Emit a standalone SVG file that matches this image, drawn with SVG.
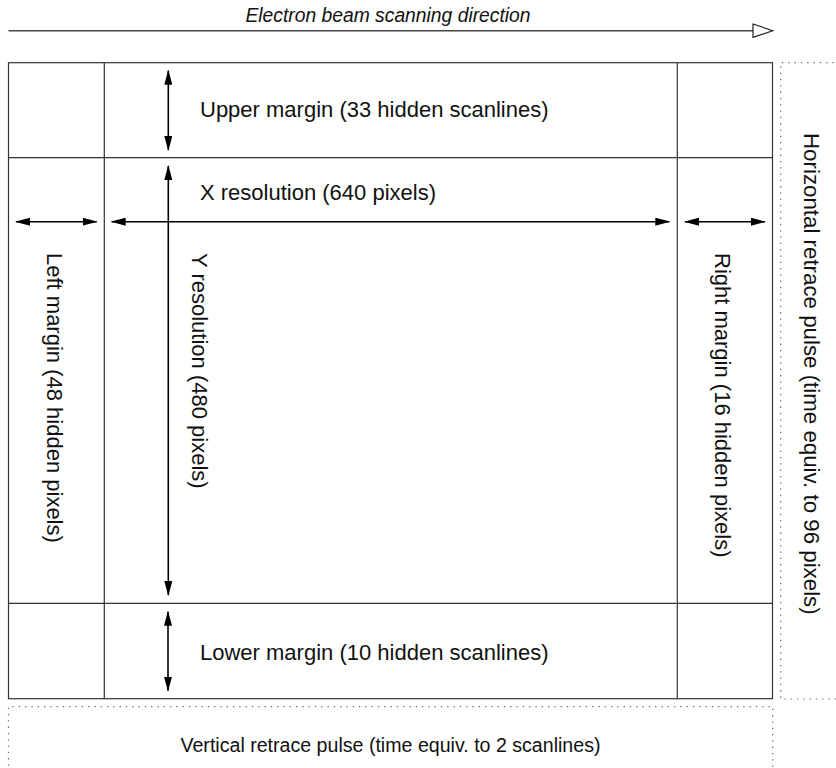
<svg xmlns="http://www.w3.org/2000/svg" width="836" height="768" viewBox="0 0 836 768">
<style>
text{font-family:"Liberation Sans",Arial,sans-serif;font-size:22px;fill:#111}
.it{font-style:italic;font-size:19.3px}
.sm{font-size:19.6px}
.grid{fill:none;stroke:#333;stroke-width:1.2}
.dot{fill:none;stroke:#666;stroke-width:1.2;stroke-dasharray:1.3 5}
.arr{stroke:#000;stroke-width:1.6;fill:none;marker-start:url(#ah);marker-end:url(#ah)}
</style>
<defs>
<marker id="ah" viewBox="0 0 15 8" refX="14" refY="4" markerWidth="15" markerHeight="8" markerUnits="userSpaceOnUse" orient="auto-start-reverse">
<path d="M0,0 L15,4 L0,8 Z" fill="#000"/>
</marker>
</defs>
<rect width="836" height="768" fill="#fff"/>
<g id="scan-direction">
<line x1="8.5" y1="30.7" x2="753" y2="30.7" stroke="#444" stroke-width="1.5"/>
<path d="M753,24 L772.7,30.7 L753,37.3 Z" fill="#fff" stroke="#222" stroke-width="1.2"/>
<text class="it" x="388" y="21.5" text-anchor="middle">Electron beam scanning direction</text>
</g>
<g id="screen">
<rect class="grid" x="8.5" y="62.7" width="764" height="636"/>
<line class="grid" x1="104.3" y1="62.7" x2="104.3" y2="698.7"/>
<line class="grid" x1="677.3" y1="62.7" x2="677.3" y2="698.7"/>
<line class="grid" x1="8.5" y1="157.7" x2="772.5" y2="157.7"/>
<line class="grid" x1="8.5" y1="603.3" x2="772.5" y2="603.3"/>
</g>
<g id="horizontal-retrace">
<path class="dot" d="M840,62.7 H780.7 V699 H840"/>
<text transform="translate(803.5,133) rotate(90)" style="font-size:22.3px">Horizontal retrace pulse (time equiv. to 96 pixels)</text>
</g>
<g id="vertical-retrace">
<path class="dot" d="M8.5,772 V706.7 H772.7 V772"/>
<text class="sm" x="390.5" y="752" text-anchor="middle">Vertical retrace pulse (time equiv. to 2 scanlines)</text>
</g>
<g id="upper-margin">
<text x="200" y="117">Upper margin (33 hidden scanlines)</text>
</g>
<g id="x-resolution">
<text x="200" y="200">X resolution (640 pixels)</text>
</g>
<g id="y-resolution">
<text transform="translate(191.5,253) rotate(90)">Y resolution (480 pixels)</text>
</g>
<g id="left-margin">
<text transform="translate(47,253) rotate(90)">Left margin (48 hidden pixels)</text>
</g>
<g id="right-margin">
<text transform="translate(715,253) rotate(90)">Right margin (16 hidden pixels)</text>
</g>
<g id="lower-margin">
<text x="200" y="660">Lower margin (10 hidden scanlines)</text>
</g>
<g id="connectors">
<line class="arr" x1="168.3" y1="70.7" x2="168.3" y2="150"/>
<line class="arr" x1="168.3" y1="166" x2="168.3" y2="595"/>
<line class="arr" x1="168" y1="611.7" x2="168" y2="690.7"/>
<line class="arr" x1="16" y1="221.7" x2="96.7" y2="221.7"/>
<line class="arr" x1="111.7" y1="221.7" x2="669.3" y2="221.7"/>
<line class="arr" x1="685" y1="221.7" x2="765" y2="221.7"/>
</g>
</svg>
